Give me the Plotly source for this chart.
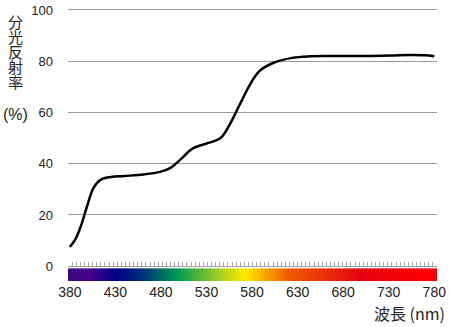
import plotly.graph_objects as go

# reflectance curve
wavelength = [380, 386, 392, 399, 406, 414, 425, 440, 461, 479, 490, 501, 515, 530,
              545, 555, 566, 577, 588, 603, 624, 643, 665, 700, 733, 752, 770, 780]
reflectance = [7.5, 10.5, 15.5, 23.5, 30.6, 33.8, 34.8, 35.2, 35.8, 36.8, 38.3, 41.5, 46, 47.9,
               49.9, 55, 62.7, 70.4, 76.1, 79.3, 81.3, 81.9, 82.0, 82.0, 82.2, 82.4, 82.3, 81.9]

# spectrum bar colour stops
spec_wl = [378, 400, 430, 460, 480, 500, 520, 545, 572, 595, 620, 650, 700, 740, 783]
spec_col = ["#3a0a80", "#4a0090", "#000088", "#00307a", "#006a62", "#00a050", "#50b23a",
            "#a8d024", "#fcec00", "#f8a400", "#f05a00", "#ec3c06", "#e60010", "#f20008", "#ff0000"]

x_ticks = [380, 430, 480, 530, 580, 630, 680, 730, 780]
y_ticks = [0, 20, 40, 60, 80, 100]
y_title_chars = ["分", "光", "反", "射", "率"]

x_min, x_max = 378, 783
bar_x = list(range(x_min, x_max + 1))
lo, hi = spec_wl[0], spec_wl[-1]
colorscale = [[(w - lo) / (hi - lo), c] for w, c in zip(spec_wl, spec_col)]

fig = go.Figure()
fig.add_trace(go.Scatter(x=wavelength, y=reflectance, mode="lines",
                         line=dict(color="black", width=2.5, shape="spline", smoothing=1.0),
                         xaxis="x", yaxis="y", showlegend=False, hoverinfo="skip"))
fig.add_trace(go.Heatmap(x=bar_x, y=[0], z=[bar_x], colorscale=colorscale,
                         zmin=lo, zmax=hi, showscale=False, xaxis="x2", yaxis="y2",
                         hoverinfo="skip"))

T, B, L, R = 3, 46, 68, 13
W = 450 - L - R
H = 327 - T - B


def px2paper(px, py):
    return (px - L) / W, (327 - B - py) / H


num_font = dict(family="Liberation Sans, Arial, sans-serif", color="#222")
y_top_val = 100 * (266 - T) / (266 - 6)

annotations = []
for i, ch in enumerate(y_title_chars):
    ax, ay = px2paper(15, 18 + 15.2 * i)
    annotations.append(dict(text=ch, x=ax, y=ay, xref="paper", yref="paper", showarrow=False,
                            xanchor="center", yanchor="middle",
                            font=dict(family="Noto Sans CJK JP", size=15, color="#222")))
ax, ay = px2paper(15, 112)
annotations.append(dict(text="(%)", x=ax, y=ay, xref="paper", yref="paper", showarrow=False,
                        xanchor="center", yanchor="middle",
                        font=dict(family="Liberation Sans, Arial", size=16, color="#222")))
ax, ay = px2paper(447, 313)
annotations.append(dict(text="波長 (nm)", x=ax, y=ay, xref="paper", yref="paper", showarrow=False,
                        xanchor="right", yanchor="middle",
                        font=dict(family="Noto Sans CJK JP", size=16, color="#222")))

fig.update_layout(
    width=450, height=327,
    margin=dict(l=L, r=R, t=T, b=B),
    paper_bgcolor="white", plot_bgcolor="white",
    xaxis=dict(domain=[0, 1], range=[x_min, x_max], anchor="y",
               showline=True, linecolor="#a0a0a0", linewidth=1,
               ticks="inside", ticklen=4, tickcolor="#a8a8a8", tickwidth=1,
               tick0=x_min, dtick=4.5, showticklabels=False, showgrid=False, zeroline=False),
    yaxis=dict(domain=[(327 - B - 266) / H, 1], range=[0, y_top_val], tickvals=y_ticks,
               showgrid=True, gridcolor="#9a9a9a", gridwidth=1, zeroline=False,
               showline=False, ticks="", ticklabelstandoff=14, ticklabeloverflow="allow",
               tickfont=dict(size=13, **num_font)),
    xaxis2=dict(domain=[0, 1], range=[x_min, x_max], anchor="y2",
                tickvals=x_ticks, ticks="", showgrid=False, zeroline=False, showline=False,
                ticklabelstandoff=1, tickfont=dict(size=14, **num_font)),
    yaxis2=dict(domain=[0, 13 / H], range=[-0.5, 0.5], showticklabels=False,
                showgrid=False, zeroline=False, anchor="x2"),
    annotations=annotations,
)

fig.write_html("out.html")
